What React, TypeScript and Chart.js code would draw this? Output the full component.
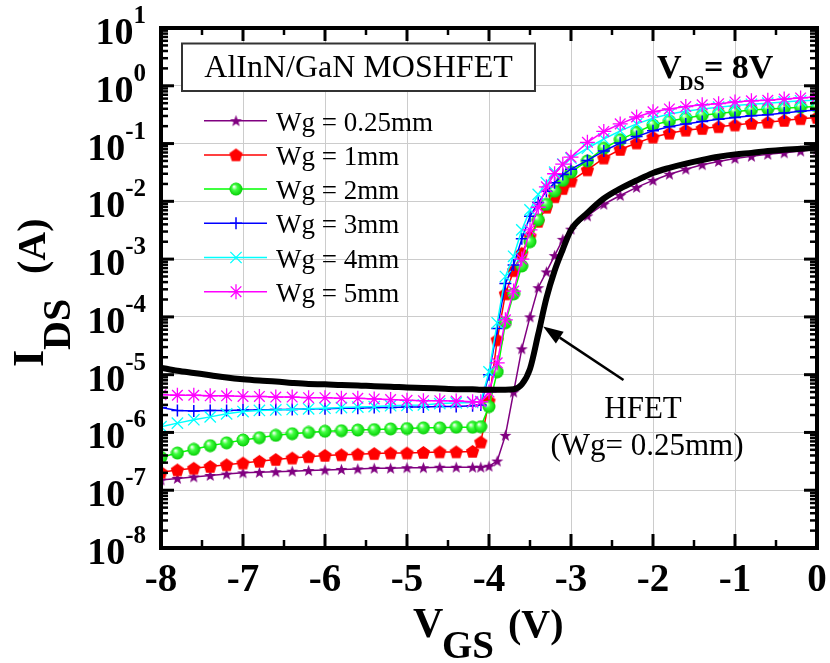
import React, { useEffect, useRef } from 'react';
import { Chart, registerables } from 'chart.js';
import { drawPoint } from 'chart.js/helpers';

Chart.register(...registerables);

// ---- data ----
const vgs = [
  -8, -7.8, -7.6, -7.4, -7.2, -7, -6.8, -6.6, -6.4, -6.2,
  -6, -5.8, -5.6, -5.4, -5.2, -5, -4.8, -4.6, -4.4, -4.2,
  -4.1, -4, -3.9, -3.8, -3.7, -3.6, -3.5, -3.4, -3.3, -3.2,
  -3.1, -3, -2.8, -2.6, -2.4, -2.2, -2, -1.8, -1.6, -1.4,
  -1.2, -1, -0.8, -0.6, -0.4, -0.2, 0,
];

const idsHfet = [
  1.32e-5, 1.17e-5, 1.07e-5, 9.8e-6, 8.9e-6, 8.3e-6, 7.9e-6, 7.6e-6, 7.2e-6, 6.9e-6,
  6.8e-6, 6.6e-6, 6.5e-6, 6.3e-6, 6.2e-6, 6.0e-6, 5.9e-6, 5.75e-6, 5.6e-6, 5.6e-6,
  5.5e-6, 5.5e-6, 5.5e-6, 5.5e-6, 5.6e-6, 6.8e-6, 1.26e-5, 5.0e-5, 2.1e-4, 6.3e-4,
  1.48e-3, 3.2e-3, 6.3e-3, 1.12e-2, 1.66e-2, 2.3e-2, 3.1e-2, 3.8e-2, 4.5e-2, 5.2e-2,
  5.9e-2, 6.5e-2, 6.9e-2, 7.4e-2, 7.8e-2, 8.1e-2, 8.5e-2,
];

const idsWg025 = [
  1.5e-7, 1.6e-7, 1.7e-7, 1.8e-7, 1.9e-7, 2.0e-7, 2.04e-7, 2.09e-7, 2.14e-7, 2.19e-7,
  2.24e-7, 2.29e-7, 2.34e-7, 2.4e-7, 2.4e-7, 2.45e-7, 2.45e-7, 2.5e-7, 2.5e-7, 2.5e-7,
  2.5e-7, 2.6e-7, 3.2e-7, 8.9e-7, 5.0e-6, 2.8e-5, 1.0e-4, 3.2e-4, 6.0e-4, 1.15e-3,
  2.2e-3, 3.3e-3, 5.6e-3, 8.9e-3, 1.26e-2, 1.74e-2, 2.3e-2, 2.95e-2, 3.6e-2, 4.3e-2,
  4.9e-2, 5.5e-2, 6.0e-2, 6.5e-2, 6.9e-2, 7.4e-2, 7.9e-2,
];

const idsWg1 = [
  2.04e-7, 2.24e-7, 2.4e-7, 2.57e-7, 2.75e-7, 2.95e-7, 3.16e-7, 3.4e-7, 3.6e-7, 3.8e-7,
  4.0e-7, 4.1e-7, 4.2e-7, 4.3e-7, 4.4e-7, 4.4e-7, 4.5e-7, 4.6e-7, 4.6e-7, 4.7e-7,
  6.8e-7, 3.5e-6, 4.0e-5, 2.5e-4, 6.3e-4, 1.26e-3, 2.5e-3, 4.5e-3, 7.9e-3, 1.2e-2,
  1.66e-2, 2.24e-2, 3.5e-2, 5.6e-2, 7.9e-2, 0.102, 0.129, 0.151, 0.17, 0.182,
  0.195, 0.209, 0.224, 0.234, 0.251, 0.269, 0.282,
];

const idsWg2 = [
  3.7e-7, 4.4e-7, 5.1e-7, 5.9e-7, 6.6e-7, 7.4e-7, 8.1e-7, 8.9e-7, 9.5e-7, 1.0e-6,
  1.05e-6, 1.07e-6, 1.1e-6, 1.12e-6, 1.15e-6, 1.17e-6, 1.2e-6, 1.2e-6, 1.23e-6, 1.23e-6,
  1.26e-6, 2.8e-6, 1.12e-5, 7.9e-5, 2.5e-4, 7.6e-4, 2.0e-3, 4.8e-3, 8.9e-3, 1.5e-2,
  2.3e-2, 3.2e-2, 5.0e-2, 8.3e-2, 0.117, 0.158, 0.209, 0.245, 0.275, 0.309,
  0.331, 0.355, 0.38, 0.398, 0.407, 0.427, 0.437,
];

const idsWg3 = [
  2.7e-6, 2.4e-6, 2.34e-6, 2.4e-6, 2.4e-6, 2.45e-6, 2.45e-6, 2.5e-6, 2.5e-6, 2.57e-6,
  2.57e-6, 2.63e-6, 2.63e-6, 2.7e-6, 2.7e-6, 2.75e-6, 2.75e-6, 2.8e-6, 2.8e-6, 2.9e-6,
  3.0e-6, 1.0e-5, 6.3e-5, 3.8e-4, 7.9e-4, 2.24e-3, 5.5e-3, 9.5e-3, 1.5e-2, 2.1e-2,
  2.9e-2, 3.6e-2, 5.1e-2, 7.4e-2, 0.102, 0.132, 0.166, 0.195, 0.219, 0.24,
  0.263, 0.282, 0.302, 0.316, 0.339, 0.363, 0.38,
];

const idsWg4 = [
  1.26e-6, 1.45e-6, 1.66e-6, 1.86e-6, 2.1e-6, 2.3e-6, 2.4e-6, 2.45e-6, 2.5e-6, 2.57e-6,
  2.63e-6, 2.7e-6, 2.75e-6, 2.8e-6, 2.9e-6, 2.95e-6, 3.0e-6, 3.16e-6, 3.24e-6, 3.3e-6,
  3.4e-6, 1.12e-5, 7.9e-5, 5.0e-4, 1.12e-3, 3.2e-3, 7.1e-3, 1.32e-2, 2.1e-2, 3.2e-2,
  4.4e-2, 5.6e-2, 8.3e-2, 0.12, 0.166, 0.219, 0.275, 0.324, 0.363, 0.398,
  0.427, 0.457, 0.479, 0.5, 0.525, 0.55, 0.562,
];

const idsWg5 = [
  4.5e-6, 4.4e-6, 4.4e-6, 4.3e-6, 4.3e-6, 4.2e-6, 4.2e-6, 4.1e-6, 4.1e-6, 4.0e-6,
  4.0e-6, 3.9e-6, 3.9e-6, 3.8e-6, 3.7e-6, 3.6e-6, 3.55e-6, 3.55e-6, 3.5e-6, 3.4e-6,
  3.4e-6, 5.0e-6, 1.6e-5, 8.9e-5, 2.8e-4, 1.0e-3, 3.2e-3, 7.9e-3, 1.78e-2, 3.0e-2,
  4.4e-2, 5.8e-2, 0.105, 0.162, 0.219, 0.288, 0.355, 0.398, 0.437, 0.468,
  0.49, 0.525, 0.55, 0.562, 0.589, 0.617, 0.646,
];

const seriesLabels = ['Wg = 0.25mm', 'Wg = 1mm', 'Wg = 2mm', 'Wg = 3mm', 'Wg = 4mm', 'Wg = 5mm'];
const seriesColors = ['#800080', '#ff0000', '#00ff00', '#0000ff', '#00ffff', '#ff00ff'];
const xTickValues = [-8, -7, -6, -5, -4, -3, -2, -1, 0];
const xMinorTicks = [-7.5, -6.5, -5.5, -4.5, -3.5, -2.5, -1.5, -0.5];
const yExponents = [-8, -7, -6, -5, -4, -3, -2, -1, 0, 1];
const yMinorMantissas = [2, 3, 4, 5, 6, 7, 8, 9];
const legendTitle = 'AlInN/GaN MOSHFET';
const hfetLines = ['HFET', '(Wg= 0.25mm)'];
const arrowFrom = { x: -2.36, y: 8.1e-6 };
const arrowTo = { x: -3.34, y: 6.8e-5 };

const FONT = "'Liberation Serif', 'Times New Roman', serif";

function makeCanvas(size: number, draw: (c: CanvasRenderingContext2D, s: number) => void) {
  const cv = document.createElement('canvas');
  cv.width = size;
  cv.height = size;
  const c = cv.getContext('2d')!;
  draw(c, size);
  return cv;
}

function makeStar(color: string) {
  return makeCanvas(13, (c, s) => {
    const cx = s / 2, cy = s / 2 + 0.5, ro = 6.3, ri = 2.6;
    c.beginPath();
    for (let i = 0; i < 10; i++) {
      const r = i % 2 === 0 ? ro : ri;
      const ang = -Math.PI / 2 + (i * Math.PI) / 5;
      const px = cx + r * Math.cos(ang);
      const py = cy + r * Math.sin(ang);
      if (i === 0) c.moveTo(px, py); else c.lineTo(px, py);
    }
    c.closePath();
    c.fillStyle = color;
    c.fill();
  });
}

function makePentagon(color: string) {
  return makeCanvas(15, (c, s) => {
    const cx = s / 2, cy = s / 2 + 0.5, r = 7;
    c.beginPath();
    for (let i = 0; i < 5; i++) {
      const ang = -Math.PI / 2 + (i * 2 * Math.PI) / 5;
      const px = cx + r * Math.cos(ang);
      const py = cy + r * Math.sin(ang);
      if (i === 0) c.moveTo(px, py); else c.lineTo(px, py);
    }
    c.closePath();
    c.fillStyle = color;
    c.fill();
  });
}

function makeSphere() {
  return makeCanvas(14, (c, s) => {
    const g = c.createRadialGradient(5, 4.5, 0.5, 7, 7, 7);
    g.addColorStop(0, '#f0fff0');
    g.addColorStop(0.35, '#40ff40');
    g.addColorStop(1, '#00c800');
    c.beginPath();
    c.arc(s / 2, s / 2, 6.5, 0, Math.PI * 2);
    c.fillStyle = g;
    c.fill();
  });
}

export default function App() {
  const ref = useRef<HTMLCanvasElement>(null);

  useEffect(() => {
    document.body.style.margin = '0';
    const canvas = ref.current!;
    const star = makeStar(seriesColors[0]);
    const pent = makePentagon(seriesColors[1]);
    const sphere = makeSphere();

    const styles: any[] = [
      { pointStyle: star, pointRadius: 6, pointBorderWidth: 1 },
      { pointStyle: pent, pointRadius: 7, pointBorderWidth: 1 },
      { pointStyle: sphere, pointRadius: 7, pointBorderWidth: 1 },
      { pointStyle: 'cross', pointRadius: 6, pointBorderWidth: 1.5 },
      { pointStyle: 'crossRot', pointRadius: 8, pointBorderWidth: 1.3 },
      { pointStyle: 'star', pointRadius: 7.5, pointBorderWidth: 1.3 },
    ];
    const seriesValues = [idsWg025, idsWg1, idsWg2, idsWg3, idsWg4, idsWg5];
    const seriesOrder = [6, 5, 4, 3, 2, 1];

    const datasets: any[] = seriesValues.map((vals, i) => ({
      label: seriesLabels[i],
      data: vgs.map((v, k) => ({ x: v, y: vals[k] })),
      borderColor: seriesColors[i],
      backgroundColor: seriesColors[i],
      pointBorderColor: seriesColors[i],
      pointBackgroundColor: seriesColors[i],
      borderWidth: 1.5,
      tension: 0,
      order: seriesOrder[i],
      ...styles[i],
    }));
    datasets.push({
      label: 'HFET (Wg= 0.25mm)',
      data: vgs.map((v, k) => ({ x: v, y: idsHfet[k] })),
      borderColor: '#000',
      backgroundColor: '#000',
      borderWidth: 6,
      pointRadius: 0,
      cubicInterpolationMode: 'monotone',
      order: 0,
    });

    const line = (ctx: CanvasRenderingContext2D, x1: number, y1: number, x2: number, y2: number) => {
      ctx.beginPath();
      ctx.moveTo(x1, y1);
      ctx.lineTo(x2, y2);
      ctx.stroke();
    };

    const decor = {
      id: 'decor',
      afterDatasetsDraw(chart: any) {
        const { ctx, chartArea: a, scales } = chart;
        const x = scales.x, y = scales.y;
        ctx.save();
        ctx.strokeStyle = '#000';
        ctx.lineCap = 'butt';
        ctx.lineWidth = 3;
        for (const v of xTickValues) {
          const px = x.getPixelForValue(v);
          line(ctx, px, a.bottom, px, a.bottom - 14);
          line(ctx, px, a.top, px, a.top + 13);
        }
        ctx.lineWidth = 2.5;
        for (const v of xMinorTicks) {
          const px = x.getPixelForValue(v);
          line(ctx, px, a.bottom, px, a.bottom - 8);
          line(ctx, px, a.top, px, a.top + 7);
        }
        for (const e of yExponents) {
          const py = y.getPixelForValue(Math.pow(10, e));
          ctx.lineWidth = 3;
          line(ctx, a.left, py, a.left + 13, py);
          line(ctx, a.right, py, a.right - 13, py);
          if (e < 1) {
            ctx.lineWidth = 2.5;
            for (const m of yMinorMantissas) {
              const pm = y.getPixelForValue(m * Math.pow(10, e));
              line(ctx, a.left, pm, a.left + 7, pm);
              line(ctx, a.right, pm, a.right - 7, pm);
            }
          }
        }
        ctx.lineWidth = 4;
        ctx.strokeRect(a.left, a.top, a.right - a.left, a.bottom - a.top);
        ctx.restore();
      },
      afterDraw(chart: any) {
        const { ctx, chartArea: a, scales } = chart;
        const x = scales.x, y = scales.y;
        ctx.save();
        ctx.fillStyle = '#000';
        ctx.textBaseline = 'alphabetic';

        for (const e of yExponents) {
          const py = y.getPixelForValue(Math.pow(10, e));
          const exp = e < 0 ? '-' + Math.abs(e) : String(e);
          ctx.textAlign = 'right';
          ctx.font = `bold 25px ${FONT}`;
          const ew = ctx.measureText(exp).width;
          ctx.fillText(exp, a.left - 15, py - 5);
          ctx.font = `bold 38px ${FONT}`;
          ctx.fillText('10', a.left - 15 - ew, py + 16);
        }

        ctx.save();
        ctx.translate(43, 367);
        ctx.rotate(-Math.PI / 2);
        ctx.textAlign = 'left';
        ctx.font = `bold 44px ${FONT}`;
        ctx.fillText('I', 0, 0);
        const wI = ctx.measureText('I').width;
        ctx.font = `bold 40px ${FONT}`;
        ctx.fillText('DS', wI, 27);
        ctx.fillText('(A)', 93, 2);
        ctx.restore();

        ctx.textAlign = 'left';
        ctx.font = `bold 42px ${FONT}`;
        ctx.fillText('V', 413, 637);
        ctx.font = `bold 39px ${FONT}`;
        ctx.fillText('GS', 442, 658);
        ctx.font = `bold 40px ${FONT}`;
        ctx.fillText('(V)', 508, 637);

        ctx.font = `bold 34px ${FONT}`;
        ctx.fillText('V', 657, 78);
        ctx.font = `bold 20px ${FONT}`;
        ctx.fillText('DS', 679, 90);
        ctx.font = `bold 34px ${FONT}`;
        ctx.fillText('= 8V', 704, 78);

        ctx.fillStyle = '#fff';
        ctx.fillRect(182, 43.5, 353, 47.5);
        ctx.strokeStyle = '#333';
        ctx.lineWidth = 2;
        ctx.strokeRect(182, 43.5, 353, 47.5);
        ctx.fillStyle = '#000';
        ctx.textAlign = 'center';
        ctx.font = `32px ${FONT}`;
        ctx.fillText(legendTitle, 358.5, 77);

        for (let i = 0; i < seriesLabels.length; i++) {
          const ry = 120.7 + i * 34.2;
          const col = seriesColors[i];
          ctx.strokeStyle = col;
          ctx.fillStyle = col;
          ctx.lineWidth = 1.5;
          line(ctx, 204, ry, 267, ry);
          const st = styles[i];
          ctx.lineWidth = st.pointBorderWidth;
          drawPoint(ctx, { pointStyle: st.pointStyle, radius: st.pointRadius, rotation: 0, borderWidth: st.pointBorderWidth } as any, 236, ry);
          ctx.fillStyle = '#000';
          ctx.textAlign = 'left';
          ctx.font = `27px ${FONT}`;
          ctx.fillText(seriesLabels[i], 276, ry + 10);
        }

        const tx = x.getPixelForValue(arrowFrom.x), ty = y.getPixelForValue(arrowFrom.y);
        const hx = x.getPixelForValue(arrowTo.x), hy = y.getPixelForValue(arrowTo.y);
        const ang = Math.atan2(hy - ty, hx - tx);
        const hl = 20, hw = 7;
        const bx = hx - hl * Math.cos(ang), by = hy - hl * Math.sin(ang);
        ctx.strokeStyle = '#000';
        ctx.fillStyle = '#000';
        ctx.lineWidth = 2.5;
        line(ctx, tx, ty, bx, by);
        ctx.beginPath();
        ctx.moveTo(hx, hy);
        ctx.lineTo(bx + hw * Math.sin(ang), by - hw * Math.cos(ang));
        ctx.lineTo(bx - hw * Math.sin(ang), by + hw * Math.cos(ang));
        ctx.closePath();
        ctx.fill();

        ctx.textAlign = 'center';
        ctx.font = `31px ${FONT}`;
        ctx.fillText(hfetLines[0], 643, 418);
        ctx.fillText(hfetLines[1], 647, 455);

        ctx.restore();
      },
    };

    const chart = new Chart(canvas, {
      type: 'line',
      data: { datasets },
      options: {
        responsive: false,
        animation: false,
        devicePixelRatio: 1,
        events: [],
        layout: { padding: { top: 28, right: 13, bottom: 0, left: 0 } },
        plugins: { legend: { display: false }, tooltip: { enabled: false } },
        scales: {
          x: {
            type: 'linear',
            min: -8,
            max: 0,
            afterFit: (s: any) => {
              s.height = 115;
              s.paddingLeft = 0;
              s.paddingRight = 0;
            },
            afterBuildTicks: (s: any) => { s.ticks = xTickValues.map((v) => ({ value: v })); },
            ticks: {
              autoSkip: false,
              maxRotation: 0,
              padding: 10,
              color: '#000',
              font: { family: FONT, size: 39, weight: 'bold' },
              callback: (v: any) => String(v),
            },
            grid: { color: '#cccccc', lineWidth: 1, drawTicks: false },
            border: { display: false },
          },
          y: {
            type: 'logarithmic',
            min: 1e-8,
            max: 10,
            afterFit: (s: any) => { s.width = 161; },
            afterBuildTicks: (s: any) => { s.ticks = yExponents.map((e) => ({ value: Math.pow(10, e) })); },
            ticks: { display: false },
            grid: { color: '#cccccc', lineWidth: 1, drawTicks: false },
            border: { display: false },
          },
        },
      } as any,
      plugins: [decor],
    });
    return () => chart.destroy();
  }, []);

  return (
    <canvas
      ref={ref}
      width={830}
      height={663}
      style={{ display: 'block', width: 830, height: 663 }}
    />
  );
}
